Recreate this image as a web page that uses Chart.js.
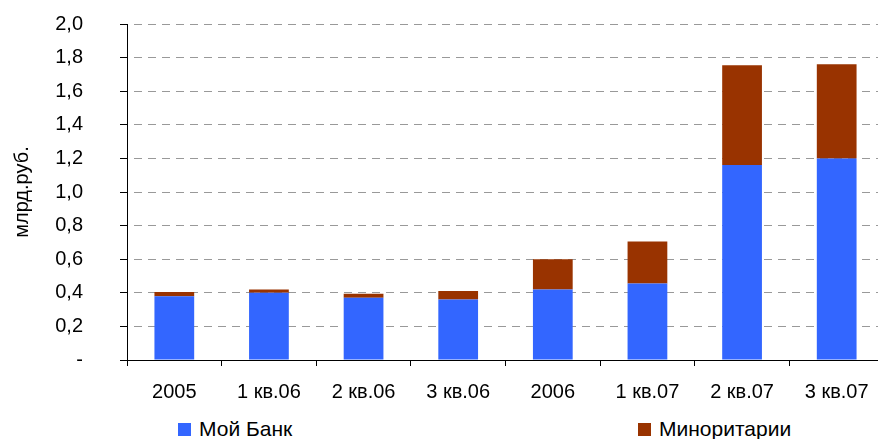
<!DOCTYPE html>
<html>
<head>
<meta charset="utf-8">
<script src="https://cdn.jsdelivr.net/npm/chart.js@4/dist/chart.umd.min.js"></script>
<style>
  html, body { margin: 0; padding: 0; background: #fff; overflow: hidden; }
  #wrap { position: relative; width: 884px; height: 439px; }
  #chart { position: absolute; left: 0; top: 0; }
  .legend-item { position: absolute; top: 417px; font: 21px "Liberation Sans", Arial, sans-serif; line-height: 24px; color: #000; white-space: nowrap; }
  .legend-item span { display: inline-block; width: 13px; height: 13px; margin-right: 8px; vertical-align: 0px; }
</style>
</head>
<body>
<div id="wrap">
  <canvas id="chart" width="884" height="400"></canvas>
  <div id="legend"></div>
</div>
<script>
  // categories and values (млрд.руб.)
  var labels = ["2005", "1 кв.06", "2 кв.06", "3 кв.06", "2006", "1 кв.07", "2 кв.07", "3 кв.07"];
  var myBank = [0.38, 0.40, 0.37, 0.36, 0.42, 0.455, 1.16, 1.20];
  var minority = [0.025, 0.02, 0.025, 0.05, 0.18, 0.25, 0.595, 0.56];
  var seriesNames = ["Мой Банк", "Миноритарии"];
  var seriesColors = ["#3366FF", "#993300"];
  var legendX = [178, 638];

  var FONT = { family: "'Liberation Sans', Arial, sans-serif", size: 20 };

  var ctx = document.getElementById("chart").getContext("2d");
  var chart = new Chart(ctx, {
    type: "bar",
    data: {
      labels: labels,
      datasets: [
        { label: seriesNames[0], data: myBank, backgroundColor: seriesColors[0] },
        { label: seriesNames[1], data: minority, backgroundColor: seriesColors[1] }
      ]
    },
    options: {
      responsive: false,
      animation: false,
      layout: { padding: { top: 24, left: 0, right: 0, bottom: 0 } },
      datasets: { bar: { categoryPercentage: 1, barPercentage: 0.42 } },
      plugins: { legend: { display: false }, tooltip: { enabled: false } },
      scales: {
        x: {
          stacked: true,
          grid: { drawOnChartArea: false, offset: true, tickLength: 6, tickColor: "#000", tickWidth: 1 },
          border: { color: "#000", width: 1 },
          ticks: { color: "#000", font: FONT, padding: 14, maxRotation: 0 },
          afterFit: function (scale) { scale.height = 40; }
        },
        y: {
          stacked: true,
          min: 0,
          max: 2,
          ticks: {
            stepSize: 0.2,
            color: "#000",
            font: FONT,
            padding: 37,
            callback: function (v) {
              if (Math.abs(v) < 1e-9) return "-";
              return v.toFixed(1).replace(".", ",");
            }
          },
          grid: {
            color: function (c) { return c.tick && c.tick.value === 0 ? "rgba(0,0,0,0)" : "#999999"; },
            lineWidth: 1,
            tickLength: 7,
            tickColor: "#000",
            tickBorderDash: []
          },
          // in v4 border.dash styles the grid lines, the axis line itself stays solid
          border: { color: "#000", width: 1, dash: [8, 6], dashOffset: -6 },
          title: { display: true, text: "млрд.руб.", color: "#000", font: FONT, padding: { top: 10, bottom: 0 } },
          afterFit: function (scale) {
            // label padding would otherwise be added above and below the axis
            scale.width = 127;
            scale.paddingTop = 0;
            scale.paddingBottom = 0;
          }
        }
      }
    }
  });

  // legend below the chart
  var legend = document.getElementById("legend");
  seriesNames.forEach(function (name, i) {
    var item = document.createElement("div");
    item.className = "legend-item";
    item.style.left = legendX[i] + "px";
    item.innerHTML = '<span style="background:' + seriesColors[i] + '"></span>' + name;
    legend.appendChild(item);
  });
</script>
</body>
</html>
